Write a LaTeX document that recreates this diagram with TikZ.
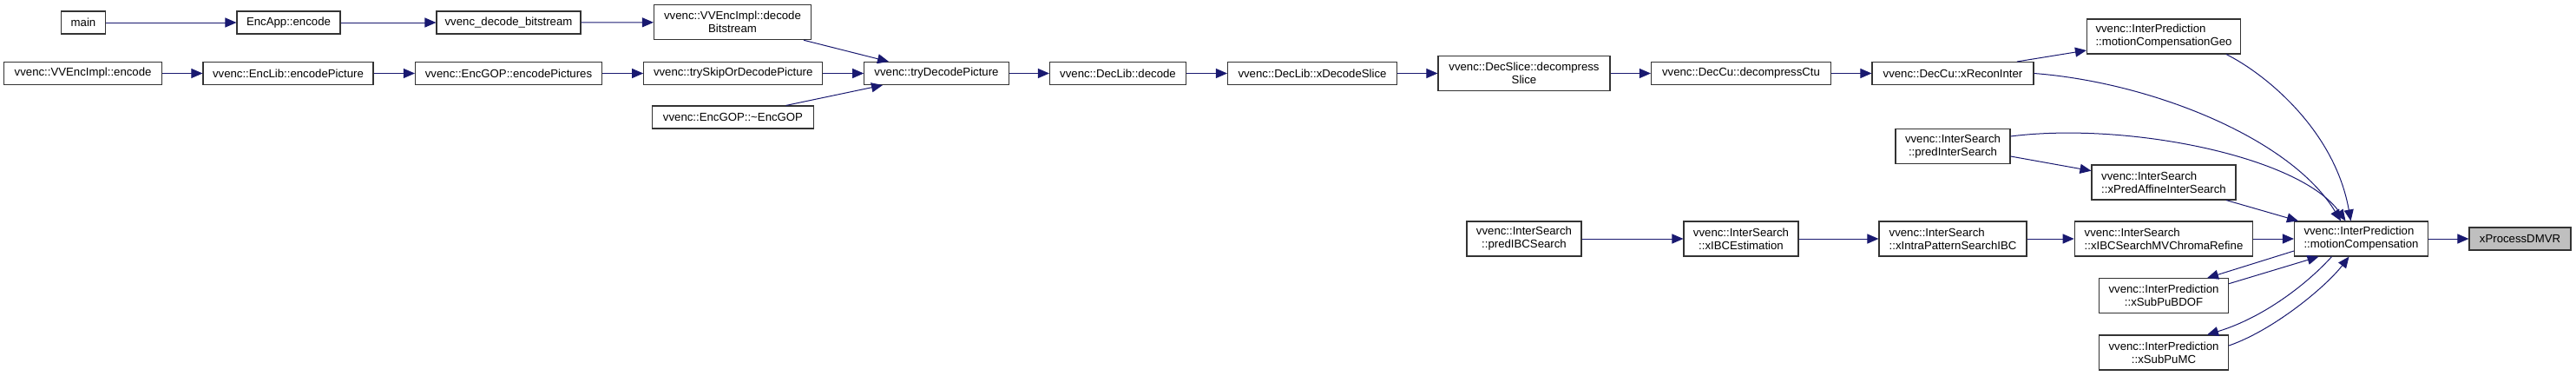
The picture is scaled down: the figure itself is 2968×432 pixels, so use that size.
\documentclass[tikz,border=0pt]{standalone}
\usepackage{fontspec}
\setmainfont{Liberation Sans}
\usetikzlibrary{arrows.meta}
\definecolor{edgeblue}{HTML}{191970}
\definecolor{curgray}{HTML}{BFBFBF}

\begin{document}
\begin{tikzpicture}[x=1pt,y=-1pt,
  fn/.style={draw=black!80,line width=1.1pt,fill=white,inner sep=0pt,minimum height=26pt,font=\fontsize{13.2}{15}\selectfont},
  fntwo/.style={fn,minimum height=40pt},
  call/.style={draw=edgeblue,line width=1pt,-{Triangle[length=13pt,width=11pt]}}]
\useasboundingbox (0,0) rectangle (2968,432);
% top rows
\node[fn,minimum width=51] (main) at (96,26) {main};
\node[fn,minimum width=119] (appenc) at (332.5,26) {EncApp::encode};
\node[fn,minimum width=166] (decbs) at (586,26) {vvenc\_decode\_bitstream};
\node[fntwo,minimum width=181,align=center] (impldec) at (844,25.7) {vvenc::VVEncImpl::decode\\Bitstream};
\node[fn,minimum width=182] (implenc) at (95.6,84.5) {vvenc::VVEncImpl::encode};
\node[fn,minimum width=196] (libenc) at (332,84.5) {vvenc::EncLib::encodePicture};
\node[fn,minimum width=215] (gopenc) at (586,84.5) {vvenc::EncGOP::encodePictures};
\node[fn,minimum width=206] (tryskip) at (844.7,84.5) {vvenc::trySkipOrDecodePicture};
\node[fn,minimum width=185.5] (gopdel) at (844.5,135) {vvenc::EncGOP::\textasciitilde EncGOP};
\node[fn,minimum width=166.5] (trydec) at (1079,84.5) {vvenc::tryDecodePicture};
\node[fn,minimum width=157] (libdec) at (1288,84.5) {vvenc::DecLib::decode};
\node[fn,minimum width=195] (xslice) at (1512,84.5) {vvenc::DecLib::xDecodeSlice};
\node[fntwo,minimum width=198,align=center] (dslice) at (1756,84.5) {vvenc::DecSlice::decompress\\Slice};
\node[fn,minimum width=207] (dctu) at (2006,84.5) {vvenc::DecCu::decompressCtu};
\node[fn,minimum width=186] (recon) at (2250,84.5) {vvenc::DecCu::xReconInter};
\node[fntwo,minimum width=177,align=left] (mcgeo) at (2493,42) {vvenc::InterPrediction\\::motionCompensationGeo};
% search side
\node[fntwo,minimum width=132,align=center] (predinter) at (2250,168.5) {vvenc::InterSearch\\::predInterSearch};
\node[fntwo,minimum width=166,align=left] (affine) at (2493,210) {vvenc::InterSearch\\::xPredAffineInterSearch};
\node[fntwo,minimum width=132,align=center] (predibc) at (1756,275) {vvenc::InterSearch\\::predIBCSearch};
\node[fntwo,minimum width=132,align=center] (ibcest) at (2006,275) {vvenc::InterSearch\\::xIBCEstimation};
\node[fntwo,minimum width=170,align=left] (intrapat) at (2250,275) {vvenc::InterSearch\\::xIntraPatternSearchIBC};
\node[fntwo,minimum width=205.5,align=left] (chroma) at (2493,275) {vvenc::InterSearch\\::xIBCSearchMVChromaRefine};
\node[fntwo,minimum width=154,align=left] (mc) at (2720.5,275) {vvenc::InterPrediction\\::motionCompensation};
\node[fn,fill=curgray,minimum width=117] (dmvr) at (2903.5,275) {xProcessDMVR};
\node[fntwo,minimum width=149,align=center] (bdof) at (2493,340.7) {vvenc::InterPrediction\\::xSubPuBDOF};
\node[fntwo,minimum width=149,align=center] (submc) at (2493,406) {vvenc::InterPrediction\\::xSubPuMC};
% straight calls
\foreach \a/\b in {main/appenc,appenc/decbs,decbs/impldec,implenc/libenc,libenc/gopenc,gopenc/tryskip,tryskip/trydec,trydec/libdec,libdec/xslice,xslice/dslice,dslice/dctu,dctu/recon,predibc/ibcest,ibcest/intrapat,intrapat/chroma,chroma/mc,mc/dmvr}
  \draw[call] (\a) -- (\b);
\draw[call] ([xshift=82]impldec.south) -- ([xshift=-55]trydec.north);
\draw[call] ([xshift=61]gopdel.north) -- ([xshift=-62]trydec.south);
\draw[call] ([xshift=74]recon.north) -- ([yshift=-16]mcgeo.west);
\draw[call] ([yshift=-11.5]predinter.east) -- ([yshift=13.3]affine.west);
\draw[call] ([xshift=72]affine.south) -- ([xshift=5]mc.north west);
\draw[call] ([yshift=-14]mc.west) -- ([xshift=50]bdof.north);
\draw[call] ([yshift=14]bdof.east) -- ([xshift=-49]mc.south);
% curved calls into motionCompensation
\draw[call] (recon.east) .. controls (2480,95) and (2640,160) .. ([xshift=-23.5]mc.north);
\draw[call] ([xshift=72]mcgeo.south) .. controls (2610,85) and (2690,150) .. ([xshift=-12]mc.north);
\draw[call] ([yshift=11.5]predinter.east) .. controls (2450,140) and (2650,180) .. ([xshift=-18]mc.north);
\draw[call] ([xshift=-34]mc.south) .. controls (2660,325) and (2610,365) .. ([xshift=50]submc.north);
\draw[call] ([yshift=8]submc.east) .. controls (2620,380) and (2680,330) .. ([xshift=-14]mc.south);
\end{tikzpicture}
\end{document}
